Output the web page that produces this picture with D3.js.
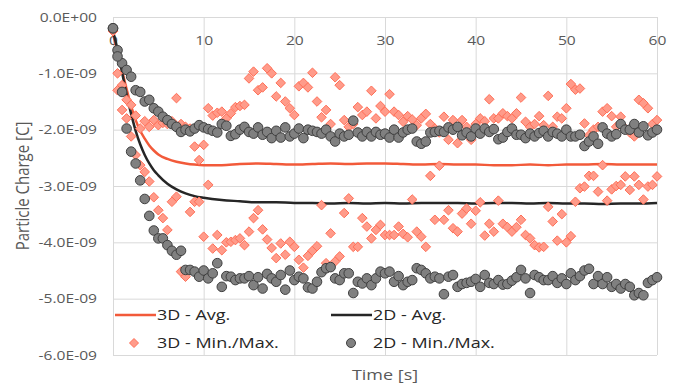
<!DOCTYPE html>
<html>
<head>
<meta charset="utf-8">
<script src="https://cdn.jsdelivr.net/npm/d3@7"></script>
<style>
  body { margin: 0; background: #fff; }
  .tick text { font-family: "Open Sans", sans-serif; font-size: 13px; fill: #595959; }
  .legend text { font-family: "Open Sans", sans-serif; font-size: 15px; fill: #262626; }
  .title { font-family: "Open Sans", sans-serif; font-size: 15px; fill: #595959; }
</style>
</head>
<body>
<div class="canvas"></div>
<script>
//VIZ DIMENSIONS
var w = 678;
var h = 386;
var margin = { top: 17, right: 21, bottom: 31, left: 113 };
var width = w - margin.left - margin.right;
var height = h - margin.top - margin.bottom;
var stretch = 1.2; // the reference text is drawn wide

//DATA (charge in units of 1E-09 C)
var xTicks = [0, 10, 20, 30, 40, 50, 60];
var xTickLabels = ['0', '10', '20', '30', '40', '50', '60'];
var yTicks = [0, -1, -2, -3, -4, -5, -6];
var yTickLabels = ['0.0E+00', '-1.0E-09', '-2.0E-09', '-3.0E-09', '-4.0E-09', '-5.0E-09', '-6.0E-09'];

var seriesNames = ['3D - Avg.', '2D - Avg.', '3D - Min./Max.', '2D - Min./Max.'];

var time = [0, 0.5, 1, 1.5, 2, 2.5, 3, 3.5, 4, 4.5, 5, 5.5, 6, 6.5, 7, 7.5, 8, 8.5, 9, 9.5,
  10, 10.5, 11, 11.5, 12, 12.5, 13, 13.5, 14, 14.5, 15, 15.5, 16, 16.5, 17, 17.5, 18, 18.5, 19, 19.5,
  20, 20.5, 21, 21.5, 22, 22.5, 23, 23.5, 24, 24.5, 25, 25.5, 26, 26.5, 27, 27.5, 28, 28.5, 29, 29.5,
  30, 30.5, 31, 31.5, 32, 32.5, 33, 33.5, 34, 34.5, 35, 35.5, 36, 36.5, 37, 37.5, 38, 38.5, 39, 39.5,
  40, 40.5, 41, 41.5, 42, 42.5, 43, 43.5, 44, 44.5, 45, 45.5, 46, 46.5, 47, 47.5, 48, 48.5, 49, 49.5,
  50, 50.5, 51, 51.5, 52, 52.5, 53, 53.5, 54, 54.5, 55, 55.5, 56, 56.5, 57, 57.5, 58, 58.5, 59, 59.5, 60];

var avgTime = [0, 0.5, 1, 1.5, 2, 2.5, 3, 3.5, 4, 4.5, 5, 6, 7, 8, 9, 10,
  12, 14, 16, 18, 20, 22, 24, 26, 28, 30, 32, 34, 36, 38, 40, 42, 44, 46, 48, 50, 52, 54, 56, 58, 60];

var avg3D = [-0.30, -0.62, -0.95, -1.28, -1.58, -1.83, -2.02, -2.16, -2.28, -2.37, -2.44, -2.52, -2.57, -2.60, -2.62, -2.63,
  -2.63, -2.61, -2.60, -2.61, -2.62, -2.61, -2.60, -2.61, -2.60, -2.60, -2.61, -2.62, -2.61, -2.62, -2.62, -2.63,
  -2.63, -2.62, -2.63, -2.62, -2.62, -2.61, -2.62, -2.62, -2.62];

var avg2D = [-0.25, -0.58, -0.98, -1.38, -1.72, -2.02, -2.26, -2.45, -2.60, -2.72, -2.81, -2.96, -3.06, -3.13, -3.18, -3.21,
  -3.25, -3.27, -3.29, -3.29, -3.30, -3.30, -3.31, -3.30, -3.31, -3.30, -3.31, -3.30, -3.30, -3.30, -3.31, -3.30,
  -3.30, -3.31, -3.30, -3.31, -3.31, -3.32, -3.31, -3.31, -3.30];

var max3D = [-0.25, -1.00, -1.21, -1.47, -1.56, -1.75, -1.98, -1.85, -1.95, -1.83, -1.92, -1.88, -1.90, -1.85, -1.44, -1.90, -1.95, -1.98, -2.30, -2.54,
  -2.27, -1.62, -1.75, -1.70, -1.68, -1.80, -1.71, -1.60, -1.58, -1.56, -1.09, -0.97, -1.30, -1.25, -0.91, -1.00, -1.41, -1.17, -1.50, -1.62,
  -1.74, -1.23, -1.17, -1.25, -0.99, -1.50, -1.78, -1.65, -1.90, -1.07, -1.21, -1.83, -1.95, -1.90, -1.60, -1.74, -1.68, -1.31, -1.80, -1.58,
  -1.68, -1.37, -1.68, -1.74, -1.86, -1.76, -1.82, -1.92, -1.80, -1.72, -1.90, -1.98, -2.05, -1.77, -2.18, -1.83, -2.24, -1.83, -1.95, -2.18,
  -1.90, -1.80, -1.85, -1.46, -1.80, -1.80, -1.71, -1.76, -1.80, -1.71, -1.43, -1.86, -1.95, -1.90, -1.76, -1.92, -1.40, -1.95, -1.77, -1.80,
  -1.62, -1.19, -1.29, -1.27, -1.89, -2.10, -2.00, -1.95, -1.68, -1.62, -1.76, -1.95, -1.77, -1.98, -2.05, -2.12, -1.47, -1.53, -1.62, -1.90, -1.83];

var min3D = [-0.25, -1.30, -1.65, -1.80, -2.12, -2.45, -2.63, -2.75, -2.92, -3.20, -3.43, -3.57, -3.78, -3.28, -3.19, -4.52, -4.61, -3.46, -3.28, -3.28,
  -3.90, -2.98, -4.11, -3.87, -4.14, -4.00, -3.99, -3.96, -3.93, -4.05, -3.81, -3.57, -3.43, -3.77, -3.95, -4.10, -4.28, -4.02, -4.22, -3.99,
  -4.08, -4.31, -4.45, -4.24, -4.15, -4.07, -3.34, -4.37, -3.84, -4.34, -4.25, -3.48, -3.22, -4.08, -4.08, -3.57, -3.72, -3.93, -3.78, -3.69,
  -3.87, -3.87, -3.87, -3.72, -3.85, -3.91, -3.24, -3.81, -3.90, -4.08, -2.82, -3.60, -2.64, -3.60, -3.43, -3.75, -3.81, -3.49, -3.40, -3.67,
  -3.44, -3.29, -3.88, -3.67, -3.81, -3.26, -3.67, -3.73, -3.81, -3.73, -3.60, -3.87, -3.93, -4.05, -4.09, -4.08, -3.37, -3.63, -3.97, -3.50,
  -4.00, -3.89, -3.28, -3.04, -3.01, -2.82, -2.82, -3.10, -2.63, -3.26, -3.06, -3.00, -2.98, -2.83, -3.07, -2.83, -2.98, -3.24, -3.01, -2.98, -2.83];

var max2D = [-0.20, -0.59, -0.82, -0.94, -1.06, -1.30, -1.33, -1.50, -1.47, -1.62, -1.68, -1.77, -1.83, -1.90, -1.95, -2.04, -2.00, -2.03, -1.98, -1.92,
  -1.96, -1.99, -2.02, -2.05, -1.90, -1.93, -2.11, -2.08, -2.00, -1.95, -2.04, -2.07, -1.96, -2.09, -2.04, -2.15, -2.02, -2.14, -1.96, -2.12,
  -2.07, -1.98, -2.15, -2.00, -2.02, -2.04, -2.07, -2.00, -2.12, -2.21, -2.07, -2.12, -2.09, -1.84, -2.05, -2.12, -2.04, -2.12, -2.04, -2.09,
  -2.07, -2.14, -2.00, -2.14, -2.05, -2.00, -1.98, -2.21, -2.25, -2.21, -2.05, -2.04, -2.02, -2.04, -1.96, -2.00, -1.95, -2.10, -2.05, -2.12,
  -1.98, -2.07, -1.98, -2.04, -1.99, -2.17, -2.14, -2.04, -1.98, -2.09, -2.09, -2.15, -2.07, -2.12, -2.06, -2.02, -2.12, -2.04, -2.07, -2.12,
  -2.00, -2.12, -2.12, -2.09, -2.29, -2.21, -2.12, -2.25, -1.96, -2.07, -2.12, -2.08, -1.90, -2.00, -2.00, -1.90, -2.05, -1.94, -2.10, -2.05, -2.00];

var min2D = [-0.20, -0.70, -1.33, -1.98, -2.39, -2.60, -2.90, -3.23, -3.53, -3.79, -3.93, -3.93, -4.05, -4.15, -4.22, -4.15, -4.49, -4.49, -4.52, -4.61,
  -4.50, -4.64, -4.55, -4.37, -4.79, -4.60, -4.61, -4.67, -4.64, -4.64, -4.60, -4.76, -4.62, -4.82, -4.56, -4.64, -4.70, -4.58, -4.84, -4.50,
  -4.67, -4.61, -4.64, -4.80, -4.82, -4.70, -4.53, -4.46, -4.44, -4.64, -4.67, -4.55, -4.55, -4.90, -4.70, -4.73, -4.64, -4.76, -4.64, -4.52,
  -4.55, -4.52, -4.70, -4.60, -4.76, -4.70, -4.67, -4.46, -4.49, -4.55, -4.64, -4.61, -4.64, -4.92, -4.61, -4.58, -4.79, -4.74, -4.72, -4.70,
  -4.65, -4.79, -4.58, -4.72, -4.74, -4.67, -4.75, -4.74, -4.68, -4.62, -4.49, -4.64, -4.90, -4.58, -4.62, -4.67, -4.67, -4.60, -4.72, -4.64,
  -4.74, -4.55, -4.67, -4.60, -4.50, -4.47, -4.74, -4.60, -4.74, -4.62, -4.79, -4.74, -4.82, -4.74, -4.79, -4.94, -4.90, -4.94, -4.72, -4.67, -4.62];

//COLOURS
var orange = '#f25a3a';
var dark = '#262626';
var diamondFill = '#ff9b8a';
var diamondStroke = '#ff6f57';
var circleFill = '#808080';
var circleStroke = '#404040';
var gridColor = '#d9d9d9';

//SET THE SVG
var svg = d3.select('.canvas').append('svg')
  .attr('width', w)
  .attr('height', h)
  .style('display', 'block')
  .style('background', '#fff');

var g = svg.append('g')
  .attr('transform', 'translate(' + margin.left + ',' + margin.top + ')');

//SCALES
var x = d3.scaleLinear().domain([0, 60]).range([0, width]);
var y = d3.scaleLinear().domain([0, -6]).range([0, height]);

//GRIDLINES
g.append('g')
  .attr('class', 'xgrid')
  .call(d3.axisBottom(x).tickValues(xTicks).tickSize(height).tickFormat(''))
  .call(a => a.select('.domain').remove())
  .selectAll('line').attr('stroke', gridColor);

g.append('g')
  .attr('class', 'ygrid')
  .call(d3.axisRight(y).tickValues(yTicks).tickSize(width).tickFormat(''))
  .call(a => a.select('.domain').remove())
  .selectAll('line').attr('stroke', gridColor);

//AXIS LABELS
g.append('g')
  .call(d3.axisBottom(x).tickValues(xTicks).tickSize(0).tickPadding(19).tickFormat((d, i) => xTickLabels[i]))
  .call(a => a.select('.domain').remove())
  .selectAll('text').attr('transform', 'scale(' + stretch + ',1)');

g.append('g')
  .call(d3.axisLeft(y).tickValues(yTicks).tickSize(0).tickFormat((d, i) => yTickLabels[i]))
  .call(a => a.select('.domain').remove())
  .selectAll('text')
    .attr('x', -16 / stretch)
    .attr('transform', 'scale(' + stretch + ',1)');

//LINES
var line = d3.line()
  .x(d => x(d[0]))
  .y(d => y(d[1]))
  .curve(d3.curveMonotoneX);

g.append('path')
  .datum(avgTime.map((t, i) => [t, avg3D[i]]))
  .attr('fill', 'none')
  .attr('stroke', orange)
  .attr('stroke-width', 2.5)
  .attr('d', line);

g.append('path')
  .datum(avgTime.map((t, i) => [t, avg2D[i]]))
  .attr('fill', 'none')
  .attr('stroke', dark)
  .attr('stroke-width', 2.5)
  .attr('d', line);

//MARKERS
var dr = 4.8;
var diamond = 'M0,' + (-dr) + 'L' + dr + ',0L0,' + dr + 'L' + (-dr) + ',0Z';

var pts3D = time.map((t, i) => [t, max3D[i]]).concat(time.map((t, i) => [t, min3D[i]]));
g.append('g').selectAll('path')
  .data(pts3D)
  .enter().append('path')
    .attr('d', diamond)
    .attr('transform', d => 'translate(' + x(d[0]) + ',' + y(d[1]) + ')')
    .attr('fill', diamondFill)
    .attr('stroke', diamondStroke)
    .attr('stroke-width', 1);

var pts2D = time.map((t, i) => [t, max2D[i]]).concat(time.map((t, i) => [t, min2D[i]]));
g.append('g').selectAll('circle')
  .data(pts2D)
  .enter().append('circle')
    .attr('cx', d => x(d[0]))
    .attr('cy', d => y(d[1]))
    .attr('r', 4.8)
    .attr('fill', circleFill)
    .attr('stroke', circleStroke)
    .attr('stroke-width', 1);

//LEGEND
var legend = svg.append('g').attr('class', 'legend');
var legendPos = [[115, 315], [331, 315], [115, 343], [331, 343]];

seriesNames.forEach((name, i) => {
  var p = legendPos[i];
  var item = legend.append('g').attr('transform', 'translate(' + p[0] + ',' + p[1] + ')');
  if (i < 2) {
    item.append('line')
      .attr('x1', 0).attr('x2', 41)
      .attr('stroke', i === 0 ? orange : dark)
      .attr('stroke-width', 2.5);
  } else if (i === 2) {
    item.append('path')
      .attr('d', 'M0,-4.5L4.5,0L0,4.5L-4.5,0Z')
      .attr('transform', 'translate(19,0)')
      .attr('fill', diamondFill)
      .attr('stroke', diamondStroke);
  } else {
    item.append('circle')
      .attr('cx', 20).attr('r', 4.5)
      .attr('fill', circleFill)
      .attr('stroke', circleStroke);
  }
  item.append('text')
    .attr('transform', 'translate(42,0) scale(' + stretch + ',1)')
    .attr('dy', '0.35em')
    .text(name);
});

//TITLES
svg.append('text')
  .attr('class', 'title')
  .attr('text-anchor', 'middle')
  .attr('transform', 'translate(' + (margin.left + width / 2) + ',' + 380 + ') scale(' + stretch + ',1)')
  .text('Time [s]');

svg.append('text')
  .attr('class', 'title')
  .attr('text-anchor', 'middle')
  .attr('transform', 'translate(' + 29 + ',' + (margin.top + height / 2) + ') rotate(-90) scale(1,' + stretch + ')')
  .text('Particle Charge [C]');
</script>
</body>
</html>
